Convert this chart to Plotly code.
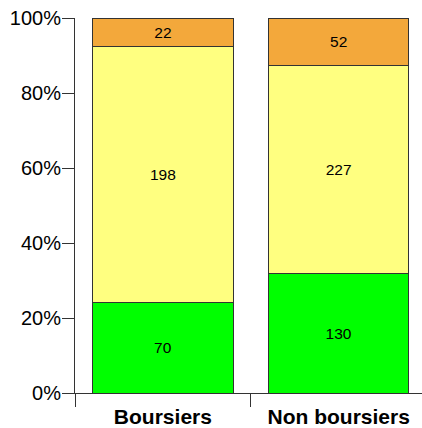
import plotly.graph_objects as go

categories = ["Boursiers", "Non boursiers"]
series_names = ["Vert", "Jaune", "Orange"]
values_green = [70, 130]
values_yellow = [198, 227]
values_orange = [22, 52]
colors = ["#00FF00", "#FFFF80", "#F3A83B"]
y_ticks = [0, 20, 40, 60, 80, 100]

fig = go.Figure()
for name, vals, col in zip(series_names, [values_green, values_yellow, values_orange], colors):
    fig.add_trace(go.Bar(
        x=categories, y=vals, name=name, text=[str(v) for v in vals],
        textposition="inside", insidetextanchor="middle", textangle=0,
        textfont=dict(family="Liberation Sans, Arial", size=15.5, color="#000000"),
        marker=dict(color=col, line=dict(color="#333333", width=1)),
        width=0.8, hoverinfo="skip",
    ))

fig.update_layout(
    barmode="stack", barnorm="percent",
    width=422, height=428,
    margin=dict(l=75, r=0, t=18, b=35, autoexpand=False),
    paper_bgcolor="white", plot_bgcolor="white",
    showlegend=False,
    font=dict(family="Liberation Sans, Arial", color="#000000"),
    uniformtext=dict(minsize=8, mode="show"),
)
fig.update_xaxes(
    range=[-0.5, 1.474], showline=True, linecolor="#333333", linewidth=1,
    ticks="outside", tickson="boundaries", ticklen=13, tickcolor="#333333",
    tickfont=dict(size=21, family="Liberation Sans, Arial", weight="bold"),
    showgrid=False, zeroline=False, automargin=False, ticklabelstandoff=5,
)
fig.update_yaxes(
    range=[0, 100], tickvals=y_ticks, ticktext=[f"{t}%" for t in y_ticks],
    showline=True, linecolor="#333333", linewidth=1,
    ticks="outside", ticklen=12, tickcolor="#333333",
    tickfont=dict(size=20, family="Liberation Sans, Arial"),
    showgrid=False, zeroline=False, ticklabelstandoff=-3, automargin=False,
)

fig.write_html("out.html", config={"displayModeBar": False},
               post_script="document.body.style.margin='0';")
